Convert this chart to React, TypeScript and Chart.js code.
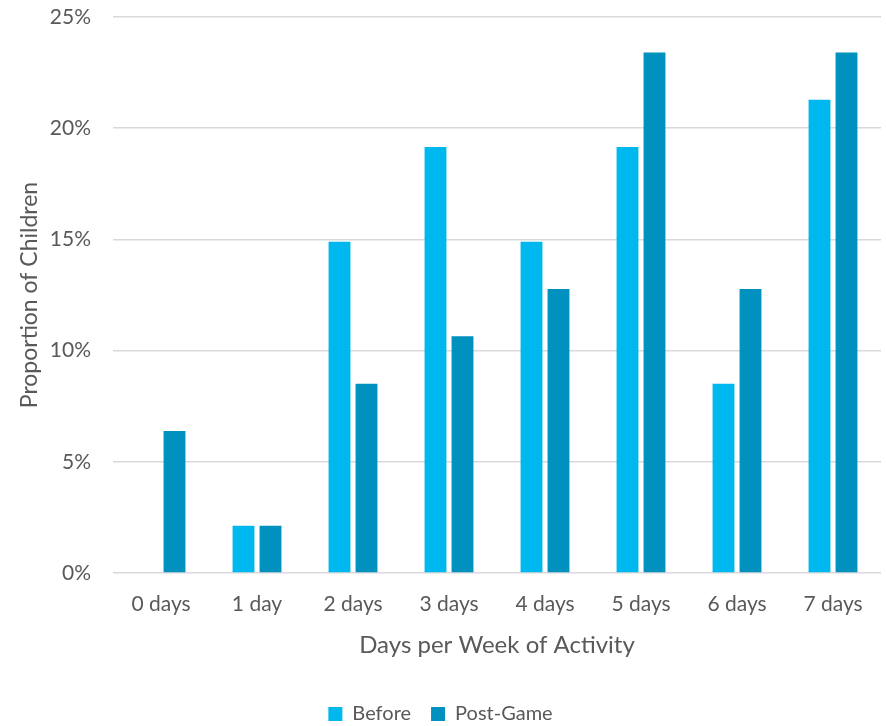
import React, { useEffect, useRef } from "react";
import { Chart, registerables } from "chart.js";

Chart.register(...registerables);

const categories = ["0 days", "1 day", "2 days", "3 days", "4 days", "5 days", "6 days", "7 days"];
const beforeValues = [0, 0.0213, 0.1489, 0.1915, 0.1489, 0.1915, 0.0851, 0.2128];
const postGameValues = [0.0638, 0.0213, 0.0851, 0.1064, 0.1277, 0.234, 0.1277, 0.234];
const seriesNames = ["Before", "Post-Game"];
const yTitle = "Proportion of Children";
const xTitle = "Days per Week of Activity";

const FONT = "Lato, 'Open Sans', sans-serif";
const TEXT = "#595959";

export default function App() {
  const ref = useRef<HTMLCanvasElement>(null);
  useEffect(() => {
    document.body.style.margin = "0";
    const chart = new Chart(ref.current!, {
      type: "bar",
      data: {
        labels: categories,
        datasets: [
          { label: seriesNames[0], data: beforeValues, backgroundColor: "#00B8F0", categoryPercentage: 0.5625, barPercentage: 0.81 },
          { label: seriesNames[1], data: postGameValues, backgroundColor: "#0091BF", categoryPercentage: 0.5625, barPercentage: 0.81 },
        ],
      },
      options: {
        animation: false,
        responsive: false,
        maintainAspectRatio: false,
        layout: { padding: { top: 17, right: 5, left: 0, bottom: -8 } },
        plugins: {
          tooltip: { enabled: false },
          legend: {
            position: "bottom",
            labels: { boxWidth: 14, boxHeight: 14, color: TEXT, font: { family: FONT, size: 20 }, padding: 20 },
          },
        },
        scales: {
          x: {
            afterFit: (s: any) => { s.height = 111; },
            grid: { display: false },
            border: { display: false },
            ticks: { color: TEXT, font: { family: FONT, size: 21 }, padding: 11 },
            title: { display: true, text: xTitle, color: TEXT, font: { family: FONT, size: 24 }, padding: { top: 0, bottom: 24 } },
          },
          y: {
            afterFit: (s: any) => { s.width = 113; s.paddingTop = 0; s.paddingBottom = 0; },
            min: 0,
            max: 0.25,
            grid: { color: "#D9D9D9", lineWidth: 1.5, drawTicks: false },
            border: { display: false },
            ticks: {
              stepSize: 0.05,
              color: TEXT,
              font: { family: FONT, size: 21 },
              padding: 22,
              callback: (v: any) => Math.round(Number(v) * 100) + "%",
            },
            title: { display: true, text: yTitle, color: TEXT, font: { family: FONT, size: 23 }, padding: { top: 16, bottom: 0 } },
          },
        },
      },
    });
    return () => chart.destroy();
  }, []);
  return <canvas ref={ref} width={886} height={726} style={{ display: "block" }} />;
}
